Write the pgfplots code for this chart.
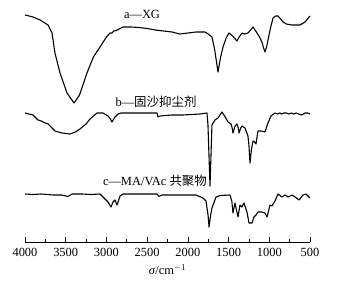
\documentclass[border=0pt]{standalone}
\usepackage{fontspec}
\setmainfont{Liberation Serif}
\newfontfamily\cjk{Noto Sans CJK SC}
\usepackage{pgfplots}
\pgfplotsset{compat=1.18}
\usepackage{pgfplotstable}

\pgfplotstableread{
x y
4000 15
3900 17
3815 20
3717 25
3668 33
3632 53
3570 73
3484 93
3398 103
3330 95
3239 73
3160 57
3079 47
3000 37
2956 33
2930 33
2910 31
2880 30.5
2797 27
2700 27
2600 27.5
2500 28.5
2400 30
2300 31
2195 32
2097 34
2000 33
1900 32
1790 32
1750 34
1704 37
1670 50
1630 72
1600 58
1568 47
1530 38
1495 33
1450 36
1397 41
1370 37
1335 33
1300 34
1262 33
1230 30
1200 27
1175 30
1151 33
1120 37
1090 42
1070 48
1053 52
1030 46
1016 40
985 28
954 18
920 16
893 16
860 19
832 22
790 24
721 25
660 25
623 25
580 23
561 22
500 16
}\dataA

\pgfplotstableread{
x y
4000 113
3950 114
3902 115
3840 120
3800 121
3779 122
3717 124
3680 127
3632 131
3546 133
3447 134
3380 132
3325 129
3250 124
3202 119
3116 113
3042 113
2981 116
2950 119
2932 122
2910 119
2895 117
2858 114
2821 113
2600 113
2379 113
2367 117
2342 116
2200 115
2060 115
1851 114
1765 113
1753 125
1728 186
1704 125
1667 120
1630 118
1581 112
1540 117
1507 122
1470 124
1458 127
1446 133
1420 126
1397 124
1380 128
1372 133
1350 128
1335 126
1298 128
1262 136
1250 145
1237 163
1220 150
1200 141
1180 142
1163 144
1139 131
1100 131
1053 132
1016 123
979 116
930 113
900 114
870 113
850 114
820 113
790 113
760 114
730 113
700 114
670 113
640 114
600 115
560 113
530 113
500 114
}\dataB

\pgfplotstableread{
x y
4000 194
3900 194.5
3800 194
3730 194.5
3650 195
3550 195
3472 196.5
3423 194
3300 194
3200 194.5
3079 194
3042 197
2981 202
2944 207
2919 202
2895 200
2870 205
2833 196
2797 194
2600 194
2400 194
2379 194
2354 196.5
2318 195
2200 195
2097 195
1900 195
1814 198
1777 201
1752 215
1740 227
1720 215
1704 208
1654 197
1600 195.5
1483 195
1460 201
1446 213
1421 203
1384 217
1360 205
1335 207
1311 203
1274 212
1249 223
1212 223
1188 217
1163 215
1139 212
1090 212
1053 213
1028 217
991 205
967 206
930 201
893 194
844 197
807 195
770 197
721 195
684 197
635 200
586 195
549 194
500 198
}\dataC

\begin{document}
\begin{tikzpicture}
\useasboundingbox (-25bp,-39bp) rectangle (318bp,242bp);
\begin{axis}[
  scale only axis,
  width=285bp, height=232bp,
  x dir=reverse,
  xmin=500, xmax=4000,
  ymin=-242, ymax=-10,
  axis x line*=bottom,
  axis y line=none,
  xtick={500,1000,...,4000},
  minor x tick num=1,
  tick align=inside,
  major tick length=5bp,
  minor tick length=3bp,
  tick style={black, line width=0.7bp},
  axis line style={black, line width=0.7bp},
  /pgf/number format/1000 sep={},
  /pgf/number format/assume math mode=true,
  tick label style={font=\fontsize{12.5}{14}\selectfont},
  xticklabel style={yshift=-3bp},
  xlabel={\textit{σ}/cm$^{-1}$},
  xlabel style={font=\fontsize{12.5}{14}\selectfont, yshift=-1bp},
  clip=false,
]
\addplot[black, line width=1.1bp, line join=round] table[x=x, y expr=-\thisrow{y}] {\dataA};
\addplot[black, line width=1.1bp, line join=round] table[x=x, y expr=-\thisrow{y}] {\dataB};
\addplot[black, line width=1.1bp, line join=round] table[x=x, y expr=-\thisrow{y}] {\dataC};
\node[font=\fontsize{12.5}{14}\selectfont] at (axis cs:2563,-14) {a—XG};
\node[font=\fontsize{12.5}{14}\selectfont] at (axis cs:2391,-102) {b—{\cjk 固沙抑尘剂}};
\node[font=\fontsize{12.5}{14}\selectfont] at (axis cs:2404,-181) {c—MA/VAc {\cjk 共聚物}};
\end{axis}
\end{tikzpicture}
\end{document}
